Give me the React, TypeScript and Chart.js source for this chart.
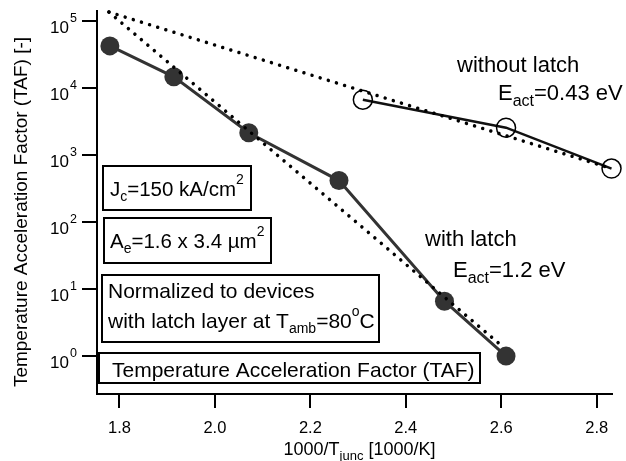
import React, { useEffect, useRef } from "react";
import { Chart, registerables } from "chart.js";

Chart.register(...registerables);

// ---- data ----
const withLatchX = [1.78, 1.914, 2.071, 2.26, 2.481, 2.61];
const withLatchY = [42500, 14700, 2150, 416, 6.6, 1.0];
const withoutLatchX = [2.31, 2.61, 2.831];
const withoutLatchY = [6700, 2560, 628];
const fitLatchX = [1.778, 2.605];
const fitLatchY = [136000, 1.35];
const fitNoLatchX = [1.778, 2.831];
const fitNoLatchY = [136000, 628];
const xTicks = [1.8, 2.0, 2.2, 2.4, 2.6, 2.8];
const yTickPowers = [0, 1, 2, 3, 4, 5];

const FONT = "'Liberation Sans', Arial, Helvetica, sans-serif";

type Part = { t: string; size: number; dy?: number };

function drawRich(ctx: CanvasRenderingContext2D, x: number, y: number, parts: Part[]) {
  let cx = x;
  for (const p of parts) {
    ctx.font = `${p.size}px ${FONT}`;
    ctx.fillText(p.t, cx, y + (p.dy || 0));
    cx += ctx.measureText(p.t).width;
  }
  return cx - x;
}

function box(ctx: CanvasRenderingContext2D, x1: number, y1: number, x2: number, y2: number) {
  ctx.fillStyle = "#fff";
  ctx.fillRect(x1, y1, x2 - x1, y2 - y1);
  ctx.strokeStyle = "#000";
  ctx.lineWidth = 2;
  ctx.strokeRect(x1, y1, x2 - x1, y2 - y1);
  ctx.fillStyle = "#000";
}

const zip = (xs: number[], ys: number[]) => xs.map((x, i) => ({ x, y: ys[i] }));

const annotations = {
  id: "annotations",
  afterDraw(chart: any) {
    const ctx: CanvasRenderingContext2D = chart.ctx;
    const ys = chart.scales.y;
    ctx.save();
    ctx.fillStyle = "#000";
    ctx.textBaseline = "alphabetic";
    ctx.textAlign = "left";

    // y tick labels 10^n
    for (const p of yTickPowers) {
      const py = ys.getPixelForValue(Math.pow(10, p));
      ctx.font = `17px ${FONT}`;
      const w = ctx.measureText("10").width;
      ctx.fillText("10", 69 - w, py + 12);
      ctx.font = `12.5px ${FONT}`;
      ctx.fillText(String(p), 70, py + 1);
    }

    // y title
    ctx.save();
    ctx.translate(27, 212);
    ctx.rotate(-Math.PI / 2);
    ctx.textAlign = "center";
    ctx.font = `19px ${FONT}`;
    ctx.fillText("Temperature Acceleration Factor (TAF) [-]", 0, 0);
    ctx.restore();

    // x title
    {
      const parts: Part[] = [
        { t: "1000/T", size: 18 },
        { t: "junc", size: 13, dy: 5 },
        { t: " [1000/K]", size: 18 },
      ];
      let w = 0;
      for (const p of parts) {
        ctx.font = `${p.size}px ${FONT}`;
        w += ctx.measureText(p.t).width;
      }
      drawRich(ctx, 359.5 - w / 2, 455, parts);
    }

    // boxes
    box(ctx, 103, 166, 251, 210);
    drawRich(ctx, 110, 196, [
      { t: "J", size: 20.5 },
      { t: "c", size: 14, dy: 5 },
      { t: "=150 kA/cm", size: 20.5 },
      { t: "2", size: 14, dy: -12 },
    ]);
    box(ctx, 104, 218, 271, 263);
    drawRich(ctx, 110, 248, [
      { t: "A", size: 20.5 },
      { t: "e", size: 14, dy: 5 },
      { t: "=1.6 x 3.4 \u00b5m", size: 20.5 },
      { t: "2", size: 14, dy: -12 },
    ]);
    box(ctx, 102, 275, 379, 342);
    drawRich(ctx, 108, 298, [{ t: "Normalized to devices", size: 21 }]);
    drawRich(ctx, 108, 328, [
      { t: "with latch layer at T", size: 21 },
      { t: "amb", size: 14, dy: 5 },
      { t: "=80", size: 21 },
      { t: "o", size: 14, dy: -12 },
      { t: "C", size: 21 },
    ]);
    box(ctx, 99, 353, 480, 383);
    drawRich(ctx, 112, 377, [{ t: "Temperature Acceleration Factor (TAF)", size: 21 }]);

    // labels
    drawRich(ctx, 457, 72, [{ t: "without latch", size: 22 }]);
    drawRich(ctx, 498, 100, [
      { t: "E", size: 22 },
      { t: "act", size: 16, dy: 6 },
      { t: "=0.43 eV", size: 22 },
    ]);
    drawRich(ctx, 425, 246, [{ t: "with latch", size: 22 }]);
    drawRich(ctx, 453, 277, [
      { t: "E", size: 22 },
      { t: "act", size: 16, dy: 6 },
      { t: "=1.2 eV", size: 22 },
    ]);
    ctx.restore();
  },
};

export default function App() {
  const ref = useRef<HTMLCanvasElement | null>(null);
  useEffect(() => {
    document.body.style.margin = "0";
    const canvas = ref.current!;
    const chart = new Chart(canvas, {
      type: "scatter",
      data: {
        datasets: [
          {
            label: "fit with latch",
            data: zip(fitLatchX, fitLatchY),
            showLine: true,
            borderColor: "#000",
            borderWidth: 3.5,
            borderDash: [0.01, 8.5],
            borderCapStyle: "round",
            pointRadius: 0,
            clip: false,
            order: 0,
          } as any,
          {
            label: "fit without latch",
            data: zip(fitNoLatchX, fitNoLatchY),
            showLine: true,
            borderColor: "#000",
            borderWidth: 3.5,
            borderDash: [0.01, 8.5],
            borderCapStyle: "round",
            pointRadius: 0,
            clip: false,
            order: 0,
          } as any,
          {
            label: "with latch",
            data: zip(withLatchX, withLatchY),
            showLine: true,
            borderColor: "#333",
            borderWidth: 3,
            pointRadius: 9.5,
            pointBackgroundColor: "#333",
            pointBorderColor: "#333",
            pointBorderWidth: 0,
            clip: false,
            order: 1,
          } as any,
          {
            label: "without latch",
            data: zip(withoutLatchX, withoutLatchY),
            showLine: true,
            borderColor: "#111",
            borderWidth: 2.5,
            pointRadius: 9.5,
            pointBackgroundColor: "rgba(0,0,0,0)",
            pointBorderColor: "#000",
            pointBorderWidth: 1.5,
            clip: false,
            order: 1,
          } as any,
        ],
      },
      options: {
        animation: false,
        responsive: false,
        events: [],
        layout: { padding: { top: 10, right: 14, left: 0, bottom: 0 } },
        plugins: { legend: { display: false }, tooltip: { enabled: false }, title: { display: false } },
        scales: {
          x: {
            type: "linear",
            min: 1.753,
            max: 2.832,
            afterBuildTicks: (s: any) => {
              s.ticks = xTicks.map((v) => ({ value: v }));
            },
            afterFit: (s: any) => {
              s.height = 67;
            },
            ticks: {
              callback: (v: any) => Number(v).toFixed(1),
              font: { family: FONT, size: 16.5 },
              color: "#000",
              padding: 11,
              maxRotation: 0,
              autoSkip: false,
            },
            grid: { drawOnChartArea: false, drawTicks: true, tickLength: 14, color: "#000", lineWidth: 2 },
            border: { display: true, color: "#000", width: 2 },
          },
          y: {
            type: "logarithmic",
            min: 0.272,
            max: 140900,
            afterBuildTicks: (s: any) => {
              s.ticks = yTickPowers.map((p) => ({ value: Math.pow(10, p), major: true }));
            },
            afterFit: (s: any) => {
              s.width = 97;
            },
            ticks: { callback: () => "", autoSkip: false },
            grid: { drawOnChartArea: false, drawTicks: true, tickLength: 15, color: "#000", lineWidth: 2 },
            border: { display: true, color: "#000", width: 2 },
          },
        },
      } as any,
      plugins: [annotations],
    });
    return () => chart.destroy();
  }, []);
  return <canvas ref={ref} width={626} height={461} style={{ display: "block" }} />;
}
